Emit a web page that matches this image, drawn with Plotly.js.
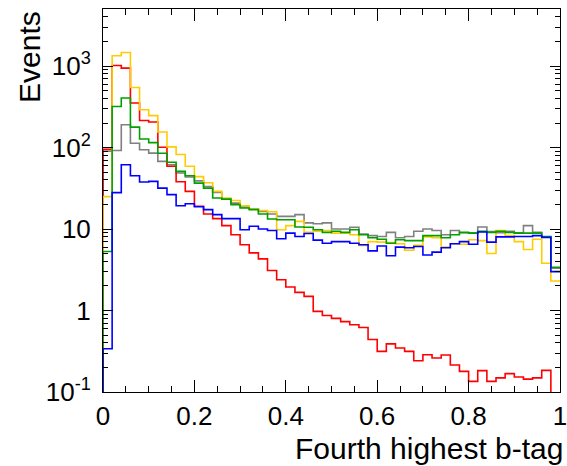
<!DOCTYPE html>
<html><head><meta charset="utf-8">
<script src="https://cdn.plot.ly/plotly-3.0.1.min.js"></script>
<style>html,body{margin:0;padding:0;background:#fff}</style>
</head><body><div id="chart" style="width:567px;height:466px"></div>
<script>
// Histogram binning (50 bins from 0 to 1)
const nBins = 50, xLow = 0, xHigh = 1;

// Bin contents (events per bin)
const grayVals = [90, 92, 190, 113, 94, 85.5, 67.6, 61.5, 48.6, 43.4,
  39, 33.3, 28.1, 23.3, 20.8, 18.6, 17.6, 16.4, 15.3, 14.3,
  14.3, 15, 11.9, 11.6, 11.9, 10, 10, 10.5, 8.7, 8.3,
  8.1, 9.1, 7.8, 8.1, 9.4, 10, 9.6, 8.5, 9.6, 9.0,
  9.0, 10.6, 9.3, 9.0, 9.4, 9.0, 11, 9.1, 8.0, 3.3];
const redVals = [95, 1015, 944, 352, 215, 206, 101, 59, 38, 29,
  19, 15.3, 13.4, 11, 8.5, 6.4, 5.1, 4.3, 3.1, 2.39,
  1.94, 1.67, 1.49, 0.975, 0.87, 0.8, 0.73, 0.67, 0.62, 0.44,
  0.315, 0.39, 0.347, 0.315, 0.242, 0.287, 0.261, 0.285, 0.214, 0.179,
  0.135, 0.183, 0.135, 0.149, 0.168, 0.153, 0.144, 0.149, 0.184, 0];
const yellowVals = [25, 1337, 1468, 545, 291, 246, 155, 102, 82, 59,
  44, 37, 29, 24, 22.4, 19.3, 17.6, 16.9, 16.3, 9.8,
  11, 12.4, 9.1, 9.4, 9.6, 8.9, 8.9, 8.5, 6.3, 7.0,
  6.9, 6.8, 6.6, 5.5, 6.3, 8.0, 7.8, 6.0, 6.6, 6.5,
  7.4, 7.2, 5.0, 9.6, 8.3, 7.0, 5.6, 7.5, 3.8, 2.3];
const greenVals = [5.3, 319, 405, 178, 127, 115, 85, 66, 51, 45,
  36.6, 31.8, 24, 23.3, 19.9, 18.1, 17.3, 15.3, 13.3, 13,
  13, 10.6, 10.5, 9.8, 9.1, 9.4, 9.1, 9.8, 8.5, 7.8,
  7.5, 6.7, 7.4, 7.2, 7.2, 8.3, 8.3, 7.8, 8.5, 9.1,
  8.9, 9.4, 9.1, 9.4, 9.1, 8.9, 8.9, 8.9, 8.1, 3.4];
const blueVals = [0.34, 28, 61.5, 45, 37.8, 38.4, 31.8, 26.4, 19.3, 20.4,
  18.8, 17.3, 15, 13.4, 13.4, 9.8, 10.8, 10, 9.6, 7.6,
  8.9, 8.1, 8.8, 7.3, 6.7, 7.0, 7.0, 6.7, 6.4, 5.4,
  6.2, 4.7, 6.0, 5.9, 6.1, 4.8, 5.2, 5.9, 6.6, 7.0,
  6.5, 9.2, 6.9, 8.0, 8.0, 8.1, 8.1, 8.3, 7.9, 3.0];

const xTickVals = [0, 0.2, 0.4, 0.6, 0.8, 1];
const xTickText = ['0', '0.2', '0.4', '0.6', '0.8', '1'];
const yTickVals = [0.1, 1, 10, 100, 1000];
const yTickText = ['10<sup>-1</sup>', '1', '10', '10<sup>2</sup>', '10<sup>3</sup>'];

const series = [
  {name: 'gray', vals: grayVals, color: 'rgb(128,128,128)'},
  {name: 'red', vals: redVals, color: 'rgb(255,0,0)'},
  {name: 'yellow', vals: yellowVals, color: 'rgb(255,204,0)'},
  {name: 'green', vals: greenVals, color: 'rgb(0,160,0)'},
  {name: 'blue', vals: blueVals, color: 'rgb(0,0,255)'}
];

const edges = [];
for (let i = 0; i <= nBins; i++) edges.push(xLow + i * (xHigh - xLow) / nBins);
const floorVal = 1e-3;

function stepTrace(s) {
  const xs = [edges[0]], ys = [floorVal];
  s.vals.forEach((v, i) => { xs.push(edges[i]); ys.push(v > 0 ? v : floorVal); });
  xs.push(edges[nBins]); ys.push(ys[ys.length - 1]);
  return {x: xs, y: ys, type: 'scatter', mode: 'lines', name: s.name,
    line: {shape: 'hv', color: s.color, width: 1.6}, hoverinfo: 'skip'};
}
const traces = series.map(stepTrace);

const yMinor = [];
for (let d = -1; d <= 3; d++) for (let m = 2; m <= 9; m++) yMinor.push(m * Math.pow(10, d));

const fontFam = 'Liberation Sans, Arial, Helvetica, sans-serif';
const layout = {
  width: 567, height: 466,
  margin: {l: 103, r: 7, t: 9, b: 74},
  paper_bgcolor: '#fff', plot_bgcolor: '#fff',
  showlegend: false,
  font: {family: fontFam, color: '#000', size: 26},
  xaxis: {range: [xLow, xHigh], tickmode: 'array', tickvals: xTickVals, ticktext: xTickText,
    ticks: 'inside', ticklen: 12, tickwidth: 1, tickcolor: '#000',
    showline: true, linecolor: '#000', linewidth: 1, mirror: 'ticks',
    showgrid: false, zeroline: false, tickfont: {size: 26}, ticklabelstandoff: 1,
    ticklabeloverflow: 'allow',
    minor: {dtick: 0.05, tick0: 0, ticks: 'inside', ticklen: 6, tickcolor: '#000', showgrid: false}},
  yaxis: {type: 'log', range: [-1, 3.70], tickmode: 'array', tickvals: yTickVals, ticktext: yTickText,
    ticks: 'inside', ticklen: 10, tickwidth: 1, tickcolor: '#000',
    showline: true, linecolor: '#000', linewidth: 1, mirror: 'ticks',
    showgrid: false, zeroline: false, tickfont: {size: 26}, ticklabelstandoff: 6,
    ticklabeloverflow: 'allow',
    minor: {tickmode: 'array', tickvals: yMinor, ticks: 'inside', ticklen: 5, tickcolor: '#000', showgrid: false}},
  annotations: [
    {text: 'Fourth highest b-tag', xref: 'paper', yref: 'paper', x: 1, y: 0,
     xanchor: 'right', yanchor: 'top', xshift: 5, yshift: -39, borderpad: 0, showarrow: false,
     font: {size: 30, family: fontFam, color: '#000'}},
    {text: 'Events', xref: 'paper', yref: 'paper', x: 0, y: 1,
     xanchor: 'center', yanchor: 'top', xshift: -74, yshift: 0, textangle: -90, showarrow: false,
     font: {size: 30, family: fontFam, color: '#000'}}
  ]
};

Plotly.newPlot('chart', traces, layout, {staticPlot: true, displayModeBar: false});
</script>
</body></html>
